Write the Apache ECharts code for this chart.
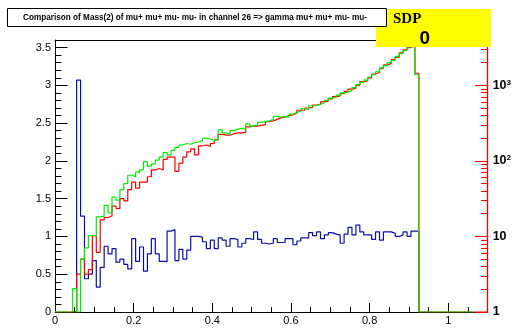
<!DOCTYPE html>
<html>
<head>
<meta charset="utf-8">
<script src="https://cdn.jsdelivr.net/npm/echarts@6/dist/echarts.min.js"></script>
<style>
html,body{margin:0;padding:0;background:#fff;}
#chart{width:514px;height:328px;}
</style>
</head>
<body>
<div id="chart"></div>
<script>
// Histogram bins: first bin starts at binLow, width binWidth (bin centres 0.05 ... 0.92)
const binLow = 0.045;
const binWidth = 0.01;

const blueVals = [
  0, 3.07, 1.27, 0.44, 0.50, 0.68, 0.33, 0.59, 0.87, 0.77,
  0.84, 0.66, 0.70, 0.63, 0.57, 0.97, 0.67, 0.86, 0.54, 0.77,
  0.97, 0.77, 0.67, 0.67, 1.07, 1.09, 0.68, 0.83, 0.70, 0.82,
  1.00, 1.00, 0.99, 0.93, 0.84, 0.95, 0.84, 0.98, 0.95, 0.87,
  0.97, 0.96, 0.86, 0.91, 0.97, 0.96, 1.06, 0.96, 0.91, 0.90,
  0.91, 0.97, 0.92, 0.92, 0.97, 0.97, 0.89, 0.94, 0.98, 0.98,
  1.05, 1.01, 1.06, 0.97, 1.02, 1.05, 1.03, 1.02, 0.91, 1.03,
  1.12, 1.02, 1.15, 1.06, 1.02, 1.02, 0.96, 1.06, 0.95, 1.06,
  1.06, 1.04, 1.00, 1.02, 1.06, 1.00, 1.07, 1.07
];

const redVals = [
  0, 0.50, 0.70, 0.50, 0.56, 1.01, 0.79, 1.22, 1.25, 1.27,
  1.40, 1.37, 1.50, 1.47, 1.62, 1.72, 1.64, 1.72, 1.72, 1.79,
  1.88, 1.90, 1.88, 2.02, 2.05, 2.05, 1.86, 1.97, 2.05, 2.12,
  2.16, 2.08, 2.20, 2.21, 2.19, 2.23, 2.28, 2.35, 2.34, 2.34,
  2.36, 2.37, 2.37, 2.38, 2.45, 2.46, 2.46, 2.47, 2.48, 2.52,
  2.53, 2.55, 2.57, 2.58, 2.60, 2.61, 2.63, 2.67, 2.67, 2.70,
  2.71, 2.74, 2.75, 2.78, 2.79, 2.82, 2.85, 2.86, 2.89, 2.92,
  2.95, 2.96, 3.00, 3.05, 3.06, 3.10, 3.15, 3.17, 3.22, 3.27,
  3.29, 3.34, 3.37, 3.43, 3.47, 3.50, 3.52, 3.16
];

const greenVals = [
  0.31, 0, 0.70, 0.85, 1.01, 1.01, 1.26, 1.27, 1.41, 1.31,
  1.52, 1.48, 1.62, 1.70, 1.81, 1.79, 1.85, 1.88, 1.99, 1.93,
  1.96, 2.01, 2.05, 2.11, 2.08, 2.14, 2.18, 2.21, 2.23, 2.22,
  2.24, 2.25, 2.27, 2.30, 2.29, 2.27, 2.28, 2.41, 2.37, 2.35,
  2.40, 2.42, 2.43, 2.42, 2.49, 2.46, 2.47, 2.51, 2.52, 2.53,
  2.55, 2.59, 2.58, 2.59, 2.58, 2.62, 2.64, 2.66, 2.69, 2.68,
  2.73, 2.73, 2.75, 2.77, 2.80, 2.83, 2.84, 2.87, 2.90, 2.91,
  2.93, 2.97, 3.01, 3.04, 3.07, 3.11, 3.14, 3.18, 3.23, 3.26,
  3.30, 3.33, 3.38, 3.42, 3.46, 3.51, 3.54, 3.14
];

// histogram ranges (zero-level extent of each histogram)
const blueRange = [0.045, 0.925];
const redRange = [0.0, 1.1];
const greenRange = [0.0, 1.065];

// right (log) axis decades drawn on the same height as the left axis
const rightDecades = [0, 1, 2, 3];
const rightLabels = ['1', '10', '10^2', '10^3'];

const titleText = 'Comparison of Mass(2) of mu+ mu+ mu- mu- in channel 26 => gamma mu+ mu+ mu- mu-';
const statLabel = 'SDP';
const statValue = '0';

function histData(vals, range) {
  const d = [];
  if (range[0] < binLow) d.push([range[0], 0]);
  vals.forEach(function (v, i) {
    d.push([+(binLow + i * binWidth).toFixed(4), v]);
  });
  const end = +(binLow + vals.length * binWidth).toFixed(4);
  d.push([end, 0]);
  if (range[1] > end) d.push([range[1], 0]);
  return d;
}

const minorLog = [];
for (let dd = 0; dd < 4; dd++) {
  for (let k = 2; k <= 9; k++) {
    const v = dd + Math.log10(k);
    if (v < 3.6) minorLog.push(v);
  }
}

const FONT = 'Liberation Sans, Arial, Helvetica, sans-serif';
const chart = echarts.init(document.getElementById('chart'), null, {renderer: 'canvas'});

const lineCommon = {
  type: 'line', step: 'end', showSymbol: false, symbol: 'none',
  xAxisIndex: 0, yAxisIndex: 0, animation: false, silent: true
};

chart.setOption({
  backgroundColor: '#ffffff',
  animation: false,
  grid: {left: 55, right: 24, top: 40, bottom: 16, show: false},
  xAxis: [
    {
      type: 'value', min: 0, max: 1.1, interval: 0.2, position: 'bottom',
      axisLine: {show: true, onZero: false, lineStyle: {color: '#000', width: 1}},
      axisTick: {show: true, inside: true, length: 9, lineStyle: {color: '#000'}},
      axisLabel: {show: true, color: '#000', fontSize: 11, fontFamily: FONT, margin: 3, showMaxLabel: false},
      splitLine: {show: false}
    },
    {
      type: 'value', min: 0, max: 1.1, interval: 0.05, position: 'bottom',
      axisLine: {show: false, onZero: false},
      axisTick: {show: true, inside: true, length: 5, lineStyle: {color: '#000'}},
      axisLabel: {show: false},
      splitLine: {show: false}
    },
    {
      type: 'value', min: 0, max: 1.1, position: 'top',
      axisLine: {show: true, onZero: false, lineStyle: {color: '#000', width: 1}},
      axisTick: {show: false},
      axisLabel: {show: false},
      splitLine: {show: false}
    }
  ],
  yAxis: [
    {
      type: 'value', min: 0, max: 3.6, interval: 0.5, position: 'left',
      axisLine: {show: true, onZero: false, lineStyle: {color: '#000', width: 1}},
      axisTick: {show: true, inside: true, length: 12.5, lineStyle: {color: '#000'}},
      axisLabel: {show: true, color: '#000', fontSize: 11, fontFamily: FONT, margin: 4, showMaxLabel: false},
      splitLine: {show: false}
    },
    {
      type: 'value', min: 0, max: 3.6, interval: 0.1, position: 'left',
      axisLine: {show: false, onZero: false},
      axisTick: {show: true, inside: true, length: 6.5, lineStyle: {color: '#000'}},
      axisLabel: {show: false},
      splitLine: {show: false}
    },
    {
      type: 'value', min: 0, max: 3.6, interval: 1, position: 'right', z: 10,
      axisLine: {show: true, onZero: false, lineStyle: {color: '#ff0000', width: 1.3}},
      axisTick: {show: true, inside: true, length: 12.5, lineStyle: {color: '#ff0000'}},
      axisLabel: {
        show: true, showMaxLabel: false, margin: 5, align: 'left',
        formatter: function (v) {
          const idx = rightDecades.indexOf(Math.round(v));
          const s = rightLabels[idx] || '';
          const parts = s.split('^');
          if (parts.length > 1) return '{b|' + parts[0] + '}{s|' + parts[1] + '}';
          return '{b|' + parts[0] + '}';
        },
        rich: {
          b: {fontSize: 12.5, fontWeight: 'bold', color: '#000', fontFamily: FONT, lineHeight: 14},
          s: {fontSize: 8, fontWeight: 'bold', color: '#000', fontFamily: FONT, verticalAlign: 'top', lineHeight: 14}
        }
      },
      splitLine: {show: false}
    },
    {
      type: 'value', min: 0, max: 3.6, position: 'right', z: 10,
      axisLine: {show: false, onZero: false},
      axisTick: {show: true, inside: true, length: 6.5, customValues: minorLog, lineStyle: {color: '#ff0000'}},
      axisLabel: {show: false},
      splitLine: {show: false}
    }
  ],
  series: [
    Object.assign({}, lineCommon, {name: 'blue', data: histData(blueVals, blueRange), lineStyle: {color: '#0c0cab', width: 1.2}, z: 3}),
    Object.assign({}, lineCommon, {name: 'red', data: histData(redVals, redRange), lineStyle: {color: '#ff0000', width: 1.2}, z: 4}),
    Object.assign({}, lineCommon, {name: 'green', data: histData(greenVals, greenRange), lineStyle: {color: '#00ee00', width: 1.2}, z: 5})
  ],
  graphic: [
    {type: 'rect', z: 100, shape: {x: 376, y: 9, width: 115, height: 38}, style: {fill: '#ffff00', stroke: null}},
    {type: 'text', z: 101, left: 393, top: 12, style: {text: statLabel, fill: '#000', font: 'bold 15px "Liberation Serif", "Times New Roman", serif'}},
    {type: 'text', z: 101, style: {text: statValue, x: 424.7, y: 38.5, align: 'center', verticalAlign: 'middle', fill: '#000', font: 'bold 19px "Liberation Sans", Arial, sans-serif'}},
    {type: 'rect', z: 102, shape: {x: 7.5, y: 8.5, width: 379, height: 18}, style: {fill: '#ffffff', stroke: '#000', lineWidth: 1}},
    {type: 'text', z: 103, style: {text: titleText, x: 195, y: 17.7, align: 'center', verticalAlign: 'middle', fill: '#000', font: 'bold 8.2px "Liberation Sans", Arial, sans-serif'}}
  ]
});
</script>
</body>
</html>
